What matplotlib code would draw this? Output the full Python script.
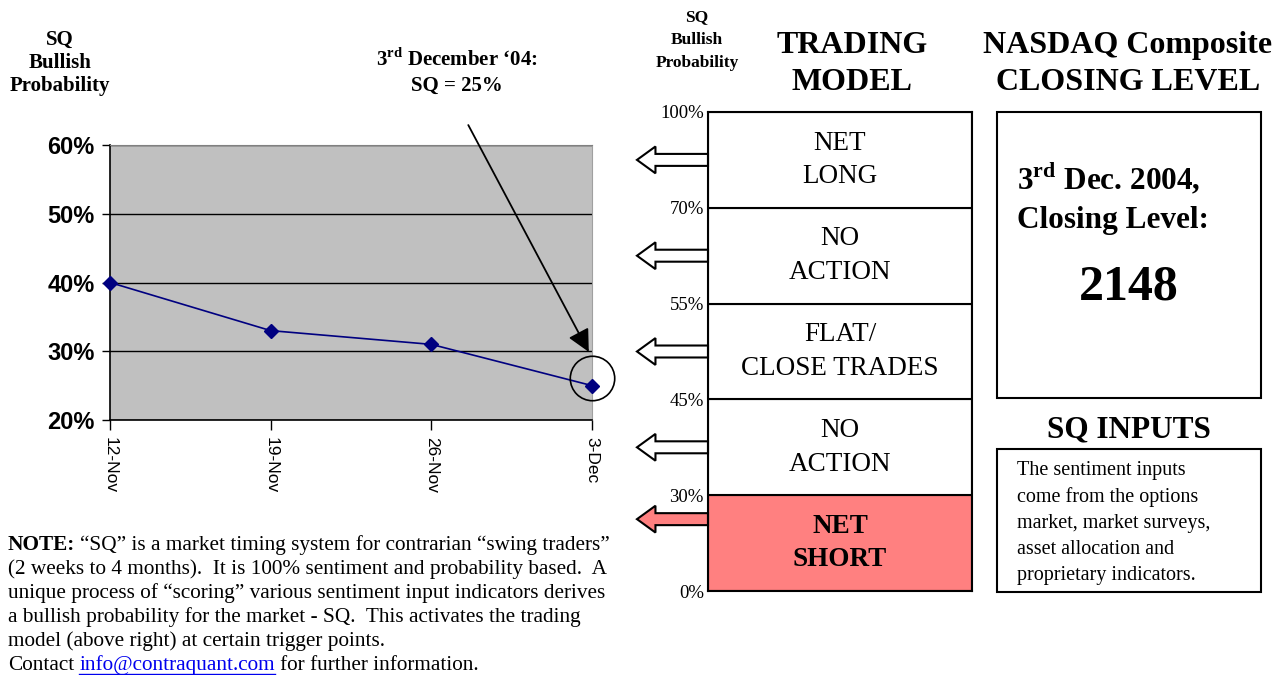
import matplotlib
matplotlib.use("Agg")
import matplotlib.pyplot as plt
from matplotlib.patches import FancyArrow, Rectangle
from matplotlib.transforms import ScaledTranslation

# SQ bullish probability, weekly
dates = ["12-Nov", "19-Nov", "26-Nov", "3-Dec"]
sq_values = [40, 33, 31, 25]
y_ticks = [20, 30, 40, 50, 60]

# trading model bands (bottom to top)
levels = ["0%", "30%", "45%", "55%", "70%", "100%"]
actions = ["NET\nSHORT", "NO\nACTION", "FLAT/\nCLOSE TRADES", "NO\nACTION", "NET\nLONG"]
active_band = 0  # SQ = 25% -> net short
closing_level = 2148

plt.rcParams["font.family"] = "Liberation Serif"
plt.rcParams["mathtext.fontset"] = "custom"
plt.rcParams["mathtext.rm"] = "Liberation Serif"
plt.rcParams["mathtext.bf"] = "Liberation Serif:bold"

fig = plt.figure(figsize=(12.88, 6.75), dpi=100)

# page layer in pixel coords
page = fig.add_axes([0, 0, 1, 1])
page.set_xlim(0, 1288)
page.set_ylim(675, 0)
page.axis("off")

# ---- line chart ----
ax = fig.add_axes([110 / 1288, 1 - 420 / 675, 482 / 1288, 275 / 675])
ax.set_facecolor("#C0C0C0")
x = list(range(len(dates)))
ax.plot(x, sq_values, color="#000080", lw=1.2, marker="D", ms=7,
        mfc="#000080", mec="#000080", zorder=3, clip_on=False)
ax.set_xlim(0, len(dates) - 1)
ax.set_ylim(y_ticks[0], y_ticks[-1])
ax.set_yticks(y_ticks)
ax.set_yticklabels([f"{v}%" for v in y_ticks], family="Liberation Sans",
                   fontweight="bold", fontsize=17)
ax.set_xticks(x)
ax.set_xticklabels(dates, family="Liberation Sans", fontsize=12.5,
                   rotation=-90, ha="center", va="top")
ax.yaxis.grid(True, color="black", lw=1)
ax.set_axisbelow(True)
ax.tick_params(axis="y", length=6, width=1, pad=5)
ax.tick_params(axis="x", length=7, width=1, pad=5)
ax.spines["top"].set_color("#808080")
ax.spines["right"].set_color("#A0A0A0")
for s in ["left", "bottom"]:
    ax.spines[s].set_linewidth(1.2)

# highlight circle and arrow on last point
shift = ScaledTranslation(0, 8 / 100, fig.dpi_scale_trans)
ax.plot(x[-1], sq_values[-1], marker="o", ms=32, mfc="none", mec="black",
        mew=1.2, clip_on=False, zorder=4, transform=ax.transData + shift)
ax.annotate("", xy=(x[-1] - 0.02, sq_values[-1] + 4.9), xytext=(2.23, 62.9),
            arrowprops=dict(arrowstyle="-|>", color="black", lw=1.3,
                            mutation_scale=34, shrinkA=0, shrinkB=0),
            annotation_clip=False)

page.text(457, 72, "3$^{\\mathbf{rd}}$ December \u201804:\nSQ = 25%", ha="center",
          va="center", fontsize=15, fontweight="bold", linespacing=1.3)
page.text(60, 63, "SQ\nBullish\nProbability", ha="center", va="center",
          fontsize=15, fontweight="bold", linespacing=1.2)

# ---- trading model ----
tm = fig.add_axes([708 / 1288, 1 - 591 / 675, 264 / 1288, 479 / 675])
colors = ["#FF8080" if i == active_band else "white" for i in range(len(actions))]
tm.bar([0.5] * len(actions), [1] * len(actions), bottom=range(len(actions)),
       width=1, color=colors, edgecolor="black", lw=1.5)
tm.set_xlim(0, 1)
tm.set_ylim(0, len(actions))
tm.set_xticks([])
tm.set_yticks(range(len(levels)))
tm.set_yticklabels(levels, fontsize=13.5)
tm.tick_params(axis="y", length=0, pad=3)
for s in tm.spines.values():
    s.set_linewidth(1.5)
for i, label in enumerate(actions):
    tm.text(0.5, i + 0.5, label, ha="center", va="center", fontsize=19.5,
            linespacing=1.45, fontweight="bold" if i == active_band else "normal")
    ya = i + 0.75 if i == active_band else i + 0.5
    tm.add_patch(FancyArrow(0, ya, -0.269, 0, width=0.125, head_width=0.28,
                            head_length=0.07, length_includes_head=True,
                            fc=colors[i], ec="black", lw=1.5, clip_on=False))

page.text(852, 64, "TRADING\nMODEL", ha="center", va="center", fontsize=23,
          fontweight="bold", linespacing=1.4)
page.text(697, 40, "SQ\nBullish\nProbability", ha="center", va="center",
          fontsize=12.5, fontweight="bold", linespacing=1.6)

# ---- NASDAQ box ----
page.text(1128, 64, "NASDAQ Composite\nCLOSING LEVEL", ha="center", va="center",
          fontsize=23, fontweight="bold", linespacing=1.4)
page.add_patch(Rectangle((997, 112), 264, 286, fill=False, lw=1.5, ec="black"))
page.text(1017, 198, "3$^{\\mathbf{rd}}$ Dec. 2004,\nClosing Level:", ha="left",
          va="center", fontsize=22.5, fontweight="bold", linespacing=1.4)
page.text(1129, 288, str(closing_level), ha="center", va="center", fontsize=36,
          fontweight="bold")

page.text(1129, 430, "SQ INPUTS", ha="center", va="center", fontsize=22.5,
          fontweight="bold")
page.add_patch(Rectangle((997, 449), 264, 143, fill=False, lw=1.5, ec="black"))
page.text(1017, 461, "The sentiment inputs\ncome from the options\nmarket, market surveys,\n"
          "asset allocation and\nproprietary indicators.", ha="left", va="top",
          fontsize=14.5, linespacing=1.5)

# ---- note ----
r = fig.canvas.get_renderer()
note_lines = [
    "(2 weeks to 4 months).  It is 100% sentiment and probability based.  A",
    "unique process of \u201cscoring\u201d various sentiment input indicators derives",
    "a bullish probability for the market - SQ.  This activates the trading",
    "model (above right) at certain trigger points.",
]
fs = 15.3
y0 = 545
t = page.text(8, y0, "NOTE:", fontsize=fs, fontweight="bold", va="center")
xe = t.get_window_extent(r).x1 + 5
page.text(xe, y0, "\u201cSQ\u201d is a market timing system for contrarian \u201cswing traders\u201d",
          fontsize=fs, va="center")
for i, line in enumerate(note_lines):
    page.text(8, y0 + 24 * (i + 1), line, fontsize=fs, va="center")
yc = y0 + 24 * 5
t = page.text(8, yc, "Contact", fontsize=fs, va="center")
xe = t.get_window_extent(r).x1 + 5
t = page.text(xe, yc, "info@contraquant.com", fontsize=fs, va="center", color="#0000EE")
bb = t.get_window_extent(r)
page.plot([bb.x0, bb.x1], [yc + 9, yc + 9], color="#0000EE", lw=1)
page.text(bb.x1 + 5, yc, "for further information.", fontsize=fs, va="center")

fig.savefig("out.png", dpi=100)
